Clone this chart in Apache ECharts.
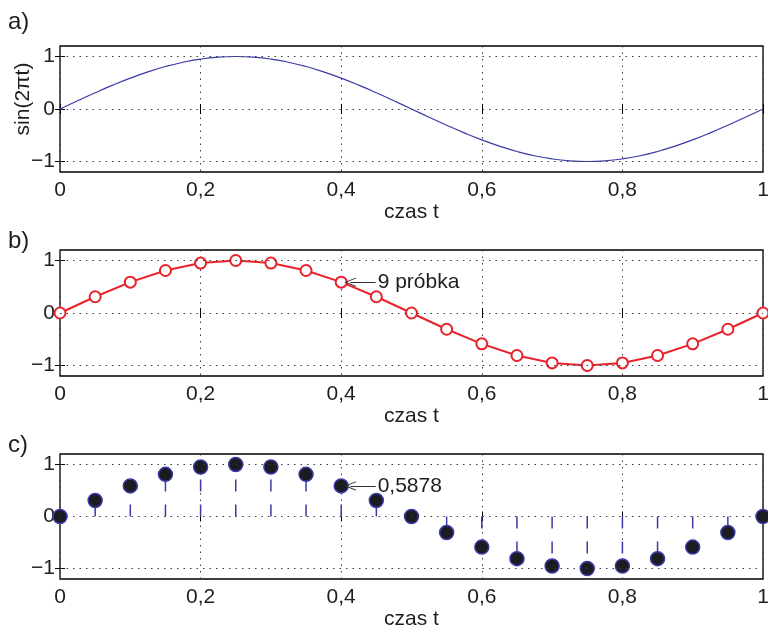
<!DOCTYPE html>
<html>
<head>
<meta charset="utf-8">
<style>
  html, body { margin: 0; padding: 0; background: #fff; }
  #chart { width: 768px; height: 633px; }
</style>
<script src="https://cdn.jsdelivr.net/npm/echarts@6/dist/echarts.min.js"></script>
</head>
<body>
<div id="chart"></div>
<script>
  // t for the continuous curve (a)
  const curveT = [0, 0.025, 0.05, 0.075, 0.1, 0.125, 0.15, 0.175, 0.2, 0.225, 0.25, 0.275, 0.3, 0.325, 0.35, 0.375, 0.4, 0.425, 0.45, 0.475, 0.5,
    0.525, 0.55, 0.575, 0.6, 0.625, 0.65, 0.675, 0.7, 0.725, 0.75, 0.775, 0.8, 0.825, 0.85, 0.875, 0.9, 0.925, 0.95, 0.975, 1]
  const curveY = [0, 0.1564, 0.3090, 0.4540, 0.5878, 0.7071, 0.8090, 0.8910, 0.9511, 0.9877, 1, 0.9877, 0.9511, 0.8910, 0.8090, 0.7071, 0.5878, 0.4540, 0.3090, 0.1564, 0,
    -0.1564, -0.3090, -0.4540, -0.5878, -0.7071, -0.8090, -0.8910, -0.9511, -0.9877, -1, -0.9877, -0.9511, -0.8910, -0.8090, -0.7071, -0.5878, -0.4540, -0.3090, -0.1564, 0]
  // samples (b, c)
  const sampleT = [0, 0.05, 0.1, 0.15, 0.2, 0.25, 0.3, 0.35, 0.4, 0.45, 0.5, 0.55, 0.6, 0.65, 0.7, 0.75, 0.8, 0.85, 0.9, 0.95, 1]
  const sampleY = [0, 0.3090, 0.5878, 0.8090, 0.9511, 1, 0.9511, 0.8090, 0.5878, 0.3090, 0, -0.3090, -0.5878, -0.8090, -0.9511, -1, -0.9511, -0.8090, -0.5878, -0.3090, 0]
  const yTicks = [-1, 0, 1]
  const xLabel = 'czas t'
  const yLabel = 'sin(2πt)'
  const panelTags = ['a)', 'b)', 'c)']
  const noteSample = { t: 0.4, y: 0.5878, textB: '9 próbka', textC: '0,5878' }

  const FONT = '"Liberation Sans", Arial, Helvetica, sans-serif'
  const TXT = '#1e1e1e'
  const grids = [
    { left: 60, right: 5, top: 46, height: 126 },
    { left: 60, right: 5, top: 250, height: 126 },
    { left: 60, right: 5, top: 454, height: 125 }
  ]
  const dotted = { color: '#3a3a3a', width: 1, type: [1.5, 5] }

  const xAxes = []
  const yAxes = []
  grids.forEach((g, i) => {
    xAxes.push({
      gridIndex: i, type: 'value', min: 0, max: 1, interval: 0.2,
      axisLine: { show: false },
      axisTick: { inside: true, length: 5, lineStyle: { color: '#000' } },
      axisLabel: { fontSize: 21, color: TXT, fontFamily: FONT, margin: 8,
        formatter: v => String(+v.toFixed(1)).replace('.', ',') },
      splitLine: { show: true, lineStyle: dotted },
      name: xLabel, nameLocation: 'middle', nameGap: 30,
      nameTextStyle: { fontSize: 21, color: TXT, fontFamily: FONT }
    })
    xAxes.push({
      gridIndex: i, type: 'value', min: 0, max: 1, interval: 0.2, position: 'top',
      axisLine: { show: false },
      axisTick: { inside: true, length: 5, lineStyle: { color: '#000' } },
      axisLabel: { show: false }, splitLine: { show: false }
    })
    yAxes.push({
      gridIndex: i, type: 'value', min: -1.2, max: 1.2,
      axisLine: { show: false },
      axisTick: { inside: true, length: 5, customValues: yTicks, lineStyle: { color: '#000' } },
      axisLabel: { fontSize: 21, color: TXT, fontFamily: FONT, margin: 5, customValues: yTicks,
        formatter: v => v < 0 ? '\u2212' + (-v) : String(v) },
      splitLine: { show: false }
    })
    yAxes.push({
      gridIndex: i, type: 'value', min: -1.2, max: 1.2, position: 'right',
      axisLine: { show: false },
      axisTick: { inside: true, length: 5, customValues: yTicks, lineStyle: { color: '#000' } },
      axisLabel: { show: false }, splitLine: { show: false }
    })
  })

  // horizontal dotted grid lines at -1, 0, 1
  const hGrid = {
    silent: true, symbol: 'none', label: { show: false },
    lineStyle: dotted, emphasis: { disabled: true },
    data: yTicks.map(v => ({ yAxis: v }))
  }

  function note (text) {
    return {
      silent: true,
      symbol: ['path://M0,0 L7,13 L6,14 L0,3 L-6,14 L-7,13 Z', 'none'],
      symbolSize: [9, 12],
      lineStyle: { color: '#333', width: 1, type: 'solid' },
      label: { show: true, position: 'end', distance: 2, formatter: text,
        fontSize: 21, color: TXT, fontFamily: FONT },
      emphasis: { disabled: true },
      data: [[
        { coord: [noteSample.t + 0.013, noteSample.y] },
        { coord: [noteSample.t + 0.049, noteSample.y] }
      ]]
    }
  }

  const chart = echarts.init(document.getElementById('chart'), null, { renderer: 'canvas' })
  chart.setOption({
    animation: false,
    backgroundColor: '#fff',
    textStyle: { fontFamily: FONT },
    grid: grids.map(g => Object.assign({ show: true, borderColor: '#000', borderWidth: 1.3,
      backgroundColor: 'transparent', containLabel: false, outerBoundsMode: 'none' }, g)),
    xAxis: xAxes,
    yAxis: yAxes,
    graphic: [
      { type: 'text', x: 8, y: 10, style: { text: panelTags[0], font: '24px ' + FONT, fill: TXT } },
      { type: 'text', x: 8, y: 229, style: { text: panelTags[1], font: '24px ' + FONT, fill: TXT } },
      { type: 'text', x: 8, y: 433, style: { text: panelTags[2], font: '24px ' + FONT, fill: TXT } },
      { type: 'text', x: 23, y: 99, rotation: Math.PI / 2,
        style: { text: yLabel, font: '21px ' + FONT, fill: TXT, align: 'center', verticalAlign: 'middle' } }
    ],
    series: [
      {
        type: 'line', xAxisIndex: 0, yAxisIndex: 0,
        data: curveT.map((t, i) => [t, curveY[i]]),
        showSymbol: false, smooth: true,
        lineStyle: { color: '#3a3aa6', width: 1.2 },
        markLine: hGrid
      },
      {
        type: 'line', xAxisIndex: 2, yAxisIndex: 2,
        data: sampleT.map((t, i) => [t, sampleY[i]]),
        symbol: 'circle', symbolSize: 11, showAllSymbol: true, clip: false,
        lineStyle: { color: '#e8232b', width: 2 },
        itemStyle: { color: '#fff', borderColor: '#e8232b', borderWidth: 2 },
        z: 3,
        markLine: note(noteSample.textB)
      },
      {
        type: 'line', xAxisIndex: 2, yAxisIndex: 2, data: [], markLine: hGrid
      },
      {
        type: 'custom', xAxisIndex: 4, yAxisIndex: 4,
        data: sampleT.map((t, i) => [t, sampleY[i]]),
        renderItem: function (params, api) {
          const p0 = api.coord([api.value(0), 0])
          const p1 = api.coord([api.value(0), api.value(1)])
          return {
            type: 'line',
            shape: { x1: p0[0], y1: p0[1], x2: p1[0], y2: p1[1] },
            style: { stroke: '#3a3aa6', lineWidth: 1.5, lineDash: [12, 13] }
          }
        },
        z: 2,
        markLine: hGrid
      },
      {
        type: 'scatter', xAxisIndex: 4, yAxisIndex: 4,
        data: sampleT.map((t, i) => [t, sampleY[i]]),
        symbolSize: 14, clip: false,
        itemStyle: { color: '#1b1b22', borderColor: '#3a3aa6', borderWidth: 1.5, opacity: 1 },
        z: 3,
        markLine: note(noteSample.textC)
      }
    ]
  })
</script>
</body>
</html>
